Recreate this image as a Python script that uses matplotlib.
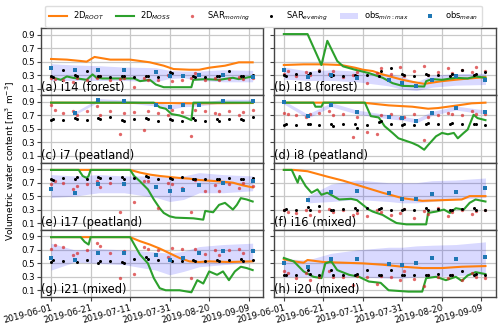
import numpy as np
import matplotlib
matplotlib.use("Agg")
import matplotlib.pyplot as plt

# day offsets from 2019-06-01
start = np.datetime64("2019-06-01")
obs_days = [0, 12, 24, 37, 53, 60, 67, 75, 87, 102]
eve_days = [0, 1, 6, 12, 13, 18, 24, 25, 30, 36, 37, 42, 48, 49, 54, 60, 61, 66,
            72, 73, 78, 84, 85, 90, 96, 97, 102]
morn_days = [0, 2, 6, 11, 13, 18, 23, 25, 30, 35, 37, 42, 47, 49, 54, 59, 61, 66,
             71, 73, 78, 83, 85, 90, 95, 97, 102]
nan = np.nan

# (a) i14 forest
root_a_days = [0, 8, 15, 18, 22, 30, 40, 50, 57, 62, 70, 75, 80, 88, 95, 102]
root_a = [0.54, 0.53, 0.51, 0.50, 0.57, 0.53, 0.53, 0.49, 0.44, 0.39, 0.38, 0.38, 0.41, 0.44, 0.49, 0.49]
moss_a_days = [0, 5, 8, 11, 18, 21, 23, 26, 42, 45, 50, 53, 57, 71, 72, 78, 85, 92, 95, 102]
moss_a = [0.27, 0.23, 0.28, 0.26, 0.23, 0.31, 0.26, 0.25, 0.25, 0.21, 0.23, 0.16, 0.12, 0.12, 0.23, 0.24, 0.23, 0.26, 0.24, 0.28]
obs_min_a = [0.22, 0.22, 0.22, 0.22, 0.20, 0.25, 0.26, 0.22, 0.20, 0.20]
obs_max_a = [0.47, 0.45, 0.44, 0.42, 0.41, 0.37, 0.36, 0.36, 0.38, 0.37]
obs_mean_a = [0.40, 0.37, 0.38, 0.37, 0.35, 0.28, 0.29, 0.30, 0.30, 0.27]
eve_a = [0.28, 0.27, 0.37, 0.30, 0.28, 0.36, 0.28, 0.29, 0.27, 0.29, 0.28, 0.27, 0.29, 0.28, 0.27, 0.34, 0.33,
         0.29, 0.28, 0.27, 0.27, 0.28, 0.29, 0.36, 0.28, 0.29, 0.30]
morn_a = [0.26, 0.24, 0.23, 0.20, 0.25, 0.22, 0.25, 0.28, 0.22, 0.24, 0.26, 0.13, 0.25, 0.22, 0.23, 0.30, 0.21,
          0.22, 0.25, 0.33, 0.23, 0.26, 0.22, 0.24, 0.27, 0.24, 0.25]

# (b) i18 forest
root_b_days = [0, 10, 20, 29, 36, 40, 45, 50, 55, 60, 65, 71, 80, 90, 102]
root_b = [0.45, 0.46, 0.46, 0.45, 0.41, 0.38, 0.36, 0.31, 0.27, 0.23, 0.20, 0.17, 0.21, 0.24, 0.27]
moss_b_days = [0, 12, 19, 22, 27, 30, 36, 43, 50, 55, 60, 71, 72, 75, 80, 87, 93, 97, 102]
moss_b = [0.91, 0.91, 0.45, 0.81, 0.51, 0.43, 0.38, 0.33, 0.26, 0.18, 0.14, 0.13, 0.21, 0.24, 0.23, 0.26, 0.25, 0.28, 0.26]
obs_min_b = [0.24, 0.22, 0.22, 0.20, 0.14, 0.09, 0.07, 0.12, 0.15, 0.16]
obs_max_b = [0.42, 0.36, 0.38, 0.36, 0.32, 0.28, 0.20, 0.30, 0.32, 0.33]
obs_mean_b = [0.38, 0.27, 0.30, 0.25, 0.22, 0.18, 0.14, 0.22, 0.28, 0.22]
eve_b = [0.30, 0.29, 0.31, 0.30, 0.33, 0.36, 0.29, 0.30, 0.29, 0.30, 0.28, 0.30, 0.29, 0.36, 0.40, 0.31, 0.30,
         0.29, 0.31, 0.30, 0.30, 0.29, 0.31, 0.38, 0.30, 0.31, 0.34]
morn_b = [0.32, 0.36, 0.28, 0.35, 0.30, 0.38, 0.32, 0.36, 0.27, 0.30, 0.34, 0.18, 0.33, 0.40, 0.32, 0.42, 0.28,
          0.36, 0.44, 0.30, 0.35, 0.40, 0.33, 0.38, 0.34, 0.42, 0.36]

# (c) i7 peatland
root_c_days = [0, 55, 72, 102]
root_c = [0.89, 0.885, 0.88, 0.885]
moss_c_days = [0, 52, 55, 58, 61, 65, 68, 71, 72, 102]
moss_c = [0.89, 0.89, 0.82, 0.80, 0.72, 0.70, 0.67, 0.63, 0.89, 0.89]
obs_min_c = [nan, 0.71, 0.90, 0.89, 0.84, 0.79, 0.83, 0.84, 0.89, 0.90]
obs_max_c = [nan, 0.75, 0.95, 0.93, 0.89, 0.86, 0.88, 0.89, 0.94, 0.94]
obs_mean_c = [nan, 0.73, 0.93, 0.91, 0.86, 0.82, 0.85, 0.86, 0.92, 0.92]
eve_c = [0.63, 0.64, 0.63, 0.66, 0.64, 0.63, 0.66, 0.64, 0.67, 0.63, 0.62, 0.65, 0.66, 0.64, 0.62, 0.65, 0.63,
         0.62, 0.66, 0.63, 0.62, 0.64, 0.62, 0.65, 0.64, 0.63, 0.67]
morn_c = [0.85, 0.78, 0.74, 0.76, 0.70, 0.77, 0.84, 0.70, 0.76, 0.43, 0.73, 0.75, 0.48, 0.77, 0.73, 0.70, 0.78,
          0.75, 0.40, 0.78, 0.76, 0.74, 0.72, 0.77, 0.70, 0.75, 0.78]

# (d) i8 peatland
root_d_days = [0, 40, 53, 65, 73, 78, 88, 95, 102]
root_d = [0.89, 0.89, 0.85, 0.83, 0.80, 0.81, 0.85, 0.88, 0.89]
moss_d_days = [0, 15, 16, 19, 20, 41, 44, 48, 51, 55, 58, 65, 68, 71, 73, 77, 80, 83, 86, 88, 91, 93, 96, 98, 102]
moss_d = [0.89, 0.89, 0.83, 0.83, 0.89, 0.89, 0.69, 0.67, 0.54, 0.44, 0.36, 0.29, 0.25, 0.19, 0.26, 0.39, 0.44,
          0.42, 0.44, 0.36, 0.44, 0.49, 0.71, 0.66, 0.63]
obs_min_d = [0.87, 0.66, 0.83, 0.72, 0.65, 0.63, 0.59, 0.70, 0.78, 0.72]
obs_max_d = [0.92, 0.72, 0.89, 0.78, 0.71, 0.69, 0.65, 0.76, 0.84, 0.78]
obs_mean_d = [0.90, 0.69, 0.86, 0.75, 0.68, 0.66, 0.62, 0.73, 0.81, 0.75]
eve_d = [0.56, 0.57, 0.56, 0.58, 0.57, 0.56, 0.57, 0.55, 0.57, 0.58, 0.51, 0.56, 0.60, 0.62, 0.57, 0.56, 0.58,
         0.56, 0.57, 0.59, 0.58, 0.57, 0.59, 0.58, 0.57, 0.58, 0.56]
morn_d = [0.73, 0.72, 0.70, 0.68, 0.72, 0.73, 0.77, 0.70, 0.72, 0.38, 0.68, 0.46, 0.42, 0.70, 0.72, 0.66, 0.68,
          0.72, 0.33, 0.68, 0.71, 0.74, 0.72, 0.70, 0.76, 0.72, 0.72]

# (e) i17 peatland
root_e_days = [0, 40, 45, 50, 55, 60, 65, 70, 75, 80, 85, 92, 97, 102]
root_e = [0.89, 0.89, 0.85, 0.82, 0.80, 0.785, 0.77, 0.76, 0.74, 0.73, 0.72, 0.70, 0.66, 0.63]
moss_e_days = [0, 14, 16, 18, 19, 20, 40, 42, 45, 49, 52, 55, 57, 60, 63, 72, 77, 78, 82, 85, 88, 90, 92, 94, 96, 99, 102]
moss_e = [0.89, 0.89, 0.80, 0.77, 0.80, 0.89, 0.89, 0.80, 0.72, 0.60, 0.45, 0.32, 0.25, 0.20, 0.18, 0.17, 0.15,
          0.28, 0.26, 0.37, 0.40, 0.35, 0.30, 0.37, 0.47, 0.45, 0.42]
obs_min_e = [0.48, 0.50, 0.55, 0.55, 0.48, 0.42, 0.45, 0.55, 0.55, 0.58]
obs_max_e = [0.82, 0.80, 0.82, 0.80, 0.80, 0.78, 0.80, 0.85, 0.82, 0.80]
obs_mean_e = [0.60, 0.55, 0.68, 0.68, 0.64, 0.58, 0.59, 0.66, 0.70, 0.72]
eve_e = [0.76, 0.74, 0.77, 0.76, 0.78, 0.76, 0.78, 0.77, 0.77, 0.78, 0.76, 0.77, 0.80, 0.79, 0.76, 0.77, 0.76,
         0.78, 0.76, 0.76, 0.75, 0.76, 0.75, 0.77, 0.76, 0.75, 0.77]
morn_e = [0.68, 0.72, 0.70, 0.60, 0.65, 0.68, 0.72, 0.64, 0.70, 0.26, 0.68, 0.42, 0.72, 0.72, 0.33, 0.70, 0.68,
          0.62, 0.26, 0.74, 0.58, 0.66, 0.58, 0.68, 0.62, 0.70, 0.65]

# (f) i16 mixed
root_f_days = [0, 5, 12, 22, 30, 40, 50, 60, 70, 80, 90, 94, 102]
root_f = [0.89, 0.89, 0.87, 0.79, 0.73, 0.64, 0.55, 0.47, 0.43, 0.44, 0.45, 0.50, 0.50]
moss_f_days = [0, 4, 7, 8, 11, 14, 17, 19, 22, 25, 28, 34, 37, 40, 43, 45, 50, 54, 57, 62, 72, 73, 77, 81, 84,
               87, 91, 94, 97, 102]
moss_f = [0.89, 0.89, 0.70, 0.80, 0.65, 0.55, 0.60, 0.52, 0.55, 0.50, 0.45, 0.46, 0.44, 0.37, 0.30, 0.27, 0.22,
          0.15, 0.10, 0.08, 0.08, 0.25, 0.27, 0.30, 0.25, 0.32, 0.30, 0.40, 0.45, 0.42]
obs_min_f = [nan, 0.40, 0.42, 0.45, 0.42, 0.40, 0.40, 0.42, 0.45, 0.48]
obs_max_f = [nan, 0.50, 0.68, 0.74, 0.70, 0.70, 0.70, 0.73, 0.74, 0.77]
obs_mean_f = [nan, 0.44, 0.56, 0.57, 0.55, 0.46, 0.46, 0.53, 0.56, 0.62]
eve_f = [0.30, 0.31, 0.29, 0.34, 0.30, 0.36, 0.29, 0.30, 0.31, 0.32, 0.30, 0.33, 0.31, 0.32, 0.29, 0.30, 0.31,
         0.30, 0.33, 0.29, 0.31, 0.30, 0.29, 0.31, 0.33, 0.30, 0.29]
morn_f = [0.30, 0.27, 0.25, 0.30, 0.22, 0.28, 0.31, 0.26, 0.30, 0.22, 0.25, 0.20, 0.30, 0.27, 0.22, 0.25, 0.31,
          0.18, 0.28, 0.24, 0.33, 0.20, 0.26, 0.30, 0.24, 0.28, 0.29]

# (g) i21 mixed
root_g_days = [0, 40, 45, 50, 55, 60, 65, 70, 75, 80, 90, 102]
root_g = [0.89, 0.89, 0.83, 0.78, 0.72, 0.65, 0.58, 0.53, 0.52, 0.53, 0.52, 0.53]
moss_g_days = [0, 15, 17, 19, 20, 40, 45, 49, 52, 55, 58, 65, 71, 74, 77, 80, 84, 87, 90, 93, 96, 99, 102]
moss_g = [0.89, 0.89, 0.82, 0.78, 0.89, 0.89, 0.63, 0.50, 0.28, 0.13, 0.10, 0.10, 0.07, 0.25, 0.20, 0.38, 0.33,
          0.38, 0.25, 0.38, 0.45, 0.43, 0.40]
obs_min_g = [0.40, 0.52, 0.50, 0.48, 0.40, 0.33, 0.38, 0.45, 0.48, 0.52]
obs_max_g = [0.80, 0.70, 0.72, 0.70, 0.67, 0.65, 0.68, 0.75, 0.78, 0.80]
obs_mean_g = [0.58, 0.55, 0.65, 0.66, 0.62, 0.55, 0.58, 0.65, 0.68, 0.68]
eve_g = [0.52, 0.55, 0.53, 0.55, 0.52, 0.55, 0.50, 0.53, 0.53, 0.52, 0.50, 0.56, 0.60, 0.57, 0.55, 0.55, 0.53,
         0.54, 0.55, 0.53, 0.53, 0.55, 0.54, 0.55, 0.56, 0.53, 0.55]
morn_g = [0.72, 0.78, 0.74, 0.63, 0.66, 0.70, 0.80, 0.76, 0.65, 0.28, 0.68, 0.34, 0.74, 0.72, 0.70, 0.60, 0.73,
          0.71, 0.28, 0.72, 0.64, 0.70, 0.62, 0.70, 0.72, 0.66, 0.70]

# (h) i20 mixed
root_h_days = [0, 5, 10, 12, 20, 30, 40, 50, 60, 70, 80, 90, 102]
root_h = [0.56, 0.53, 0.51, 0.55, 0.52, 0.51, 0.50, 0.48, 0.45, 0.43, 0.43, 0.45, 0.46]
moss_h_days = [0, 5, 10, 15, 19, 21, 24, 27, 33, 38, 43, 49, 53, 63, 70, 72, 77, 82, 87, 90, 93, 97, 102]
moss_h = [0.58, 0.53, 0.38, 0.30, 0.28, 0.50, 0.53, 0.40, 0.33, 0.30, 0.23, 0.21, 0.10, 0.08, 0.08, 0.28, 0.30,
          0.25, 0.30, 0.24, 0.32, 0.37, 0.34]
obs_min_h = [0.30, 0.30, 0.30, 0.30, 0.28, 0.28, 0.30, 0.30, 0.32, 0.33]
obs_max_h = [0.57, 0.55, 0.65, 0.70, 0.74, 0.74, 0.76, 0.77, 0.78, 0.82]
obs_mean_h = [0.50, 0.45, 0.57, 0.56, 0.49, 0.47, 0.50, 0.58, 0.56, 0.60]
eve_h = [0.33, 0.32, 0.32, 0.40, 0.34, 0.33, 0.40, 0.33, 0.32, 0.33, 0.34, 0.40, 0.33, 0.32, 0.40, 0.33, 0.32,
         0.33, 0.33, 0.32, 0.34, 0.33, 0.32, 0.38, 0.33, 0.34, 0.32]
morn_h = [0.38, 0.35, 0.28, 0.35, 0.25, 0.30, 0.38, 0.30, 0.30, 0.18, 0.31, 0.30, 0.20, 0.31, 0.30, 0.25, 0.38,
          0.27, 0.17, 0.33, 0.30, 0.28, 0.32, 0.25, 0.36, 0.30, 0.28]

titles = ["(a) i14 (forest)", "(b) i18 (forest)", "(c) i7 (peatland)", "(d) i8 (peatland)",
          "(e) i17 (peatland)", "(f) i16 (mixed)", "(g) i21 (mixed)", "(h) i20 (mixed)"]

panels = [
    (root_a_days, root_a, moss_a_days, moss_a, obs_min_a, obs_max_a, obs_mean_a, eve_a, morn_a),
    (root_b_days, root_b, moss_b_days, moss_b, obs_min_b, obs_max_b, obs_mean_b, eve_b, morn_b),
    (root_c_days, root_c, moss_c_days, moss_c, obs_min_c, obs_max_c, obs_mean_c, eve_c, morn_c),
    (root_d_days, root_d, moss_d_days, moss_d, obs_min_d, obs_max_d, obs_mean_d, eve_d, morn_d),
    (root_e_days, root_e, moss_e_days, moss_e, obs_min_e, obs_max_e, obs_mean_e, eve_e, morn_e),
    (root_f_days, root_f, moss_f_days, moss_f, obs_min_f, obs_max_f, obs_mean_f, eve_f, morn_f),
    (root_g_days, root_g, moss_g_days, moss_g, obs_min_g, obs_max_g, obs_mean_g, eve_g, morn_g),
    (root_h_days, root_h, moss_h_days, moss_h, obs_min_h, obs_max_h, obs_mean_h, eve_h, morn_h),
]


def to_dates(days):
    return start + np.array(days).astype("timedelta64[D]")


fig, axes = plt.subplots(4, 2, figsize=(5.0, 3.26), dpi=100, sharex=True, sharey=True)
fig.subplots_adjust(left=0.082, right=0.991, top=0.914, bottom=0.089, hspace=0, wspace=0.05)

for i, ax in enumerate(axes.flat):
    rd, rv, md, mv, omin, omax, omean, eve, morn = panels[i]
    ax.grid(True, color="#c8c8c8", lw=0.9)
    ax.set_axisbelow(True)
    ax.fill_between(to_dates(obs_days), omin, omax, color="blue", alpha=0.15, lw=0,
                    label="obs$_{min:max}$")
    ax.plot(to_dates(rd), rv, color="tab:orange", lw=1.5, label="2D$_{ROOT}$")
    ax.plot(to_dates(md), mv, color="tab:green", lw=1.5, label="2D$_{MOSS}$")
    ax.plot(to_dates(morn_days), morn, "o", color="tab:red", alpha=0.7, ms=2.4, mew=0,
            label="SAR$_{morning}$")
    ax.plot(to_dates(eve_days), eve, "o", color="k", ms=2.2, mew=0, label="SAR$_{evening}$")
    ax.plot(to_dates(obs_days), omean, "s", color="tab:blue", ms=2.4, mew=0, label="obs$_{mean}$")
    ax.text(0.0, 0.015, titles[i], transform=ax.transAxes, fontsize=8.3, ha="left", va="bottom")
    for sp in ax.spines.values():
        sp.set_color("#444444")
        sp.set_linewidth(1.0)
    ax.tick_params(labelsize=6.2, length=3, width=0.8, color="#444444", pad=1.5)

ax0 = axes[0, 0]
ax0.set_ylim(0, 1.0)
ax0.set_yticks([0.1, 0.3, 0.5, 0.7, 0.9])
ax0.set_xlim(start - np.timedelta64(122, "h"), start + np.timedelta64(102 * 24 + 122, "h"))
ax0.set_xticks(to_dates([0, 20, 40, 60, 80, 100]))
for ax in axes[-1]:
    for lab in ax.get_xticklabels():
        lab.set_rotation(15)
        lab.set_ha("right")
        lab.set_rotation_mode("anchor")

handles, labels = ax0.get_legend_handles_labels()
order = [1, 2, 3, 4, 0, 5]
fig.legend([handles[k] for k in order], [labels[k] for k in order], loc="upper center",
           bbox_to_anchor=(0.527, 0.995), ncol=6, fontsize=6, numpoints=1, handlelength=2.16,
           columnspacing=1.45, handletextpad=0.7, borderpad=0.45, framealpha=1, edgecolor="#dddddd")
fig.text(0.02, 0.505, "Volumetric water content [m$^3$ m$^{-3}$]", rotation=90, va="center",
         ha="center", fontsize=6.5)

fig.savefig("out.png", dpi=100)
